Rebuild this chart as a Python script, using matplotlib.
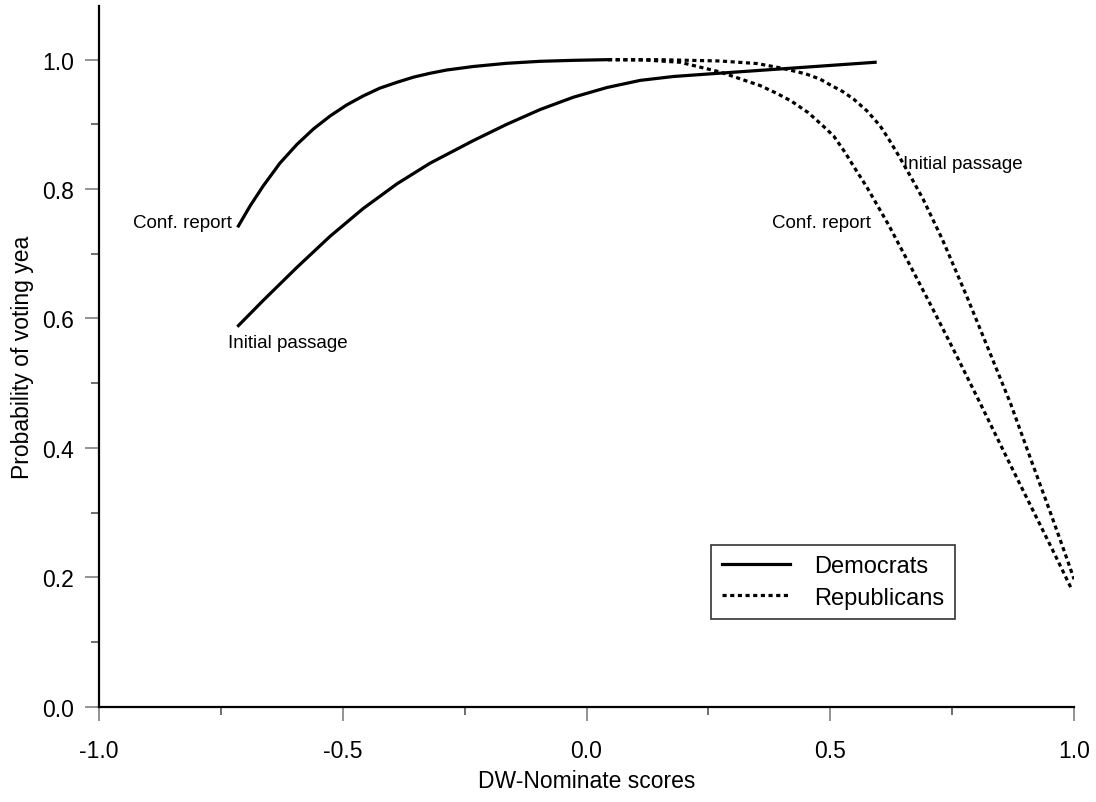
import matplotlib.pyplot as plt
from matplotlib.ticker import MultipleLocator

# Democrats, conference report
dem_conf_x = [-0.714, -0.690, -0.663, -0.629, -0.594, -0.560, -0.526, -0.492, -0.458, -0.424,
              -0.389, -0.355, -0.321, -0.287, -0.232, -0.164, -0.095, -0.027, 0.042]
dem_conf_y = [0.743, 0.774, 0.805, 0.840, 0.869, 0.893, 0.913, 0.930, 0.944, 0.956,
              0.965, 0.973, 0.979, 0.984, 0.9895, 0.9944, 0.9975, 0.999, 1.0]

# Democrats, initial passage
dem_init_x = [-0.714, -0.663, -0.594, -0.526, -0.458, -0.389, -0.321, -0.232, -0.164, -0.095,
              -0.027, 0.042, 0.110, 0.178, 0.233, 0.592]
dem_init_y = [0.589, 0.628, 0.679, 0.727, 0.770, 0.808, 0.840, 0.875, 0.900, 0.923,
              0.942, 0.957, 0.968, 0.974, 0.977, 0.996]

# Republicans, conference report
rep_conf_x = [0.044, 0.12, 0.192, 0.274, 0.356, 0.39, 0.42, 0.455, 0.486, 0.507, 0.53, 0.548,
              0.575, 0.62, 0.665, 0.71, 0.76, 0.81, 0.86, 0.91, 0.96, 0.996]
rep_conf_y = [1.0, 0.9995, 0.996, 0.981, 0.960, 0.948, 0.936, 0.918, 0.897, 0.882, 0.857, 0.835,
              0.803, 0.744, 0.680, 0.615, 0.541, 0.465, 0.388, 0.312, 0.236, 0.180]

# Republicans, initial passage
rep_init_x = [0.044, 0.15, 0.274, 0.35, 0.40, 0.45, 0.479, 0.50, 0.525, 0.548, 0.575, 0.602,
              0.62, 0.64, 0.665, 0.69, 0.73, 0.78, 0.83, 0.87, 0.91, 0.95, 0.98, 1.0]
rep_init_y = [1.0, 1.0, 0.998, 0.994, 0.987, 0.978, 0.970, 0.961, 0.951, 0.939, 0.921, 0.898,
              0.877, 0.852, 0.819, 0.785, 0.722, 0.634, 0.542, 0.468, 0.385, 0.303, 0.240, 0.197]

plt.rcParams['font.family'] = ['Liberation Sans', 'DejaVu Sans']

fig = plt.figure(figsize=(10.96, 8.03), dpi=100)
ax = fig.add_axes([0.0903, 0.1187, 0.8897, 0.873])

dots = (0, (1.3, 1.1))
ax.plot(dem_conf_x, dem_conf_y, color='black', lw=2.3, label='Democrats')
ax.plot(dem_init_x, dem_init_y, color='black', lw=2.3)
ax.plot(rep_conf_x, rep_conf_y, color='black', lw=2.3, ls=dots, label='Republicans')
ax.plot(rep_init_x, rep_init_y, color='black', lw=2.3, ls=dots)

ax.text(-0.727, 0.749, 'Conf. report', fontsize=13.5, ha='right', va='center')
ax.text(-0.735, 0.563, 'Initial passage', fontsize=13.5, ha='left', va='center')
ax.text(0.650, 0.839, 'Initial passage', fontsize=13.5, ha='left', va='center')
ax.text(0.380, 0.749, 'Conf. report', fontsize=13.5, ha='left', va='center')

ax.set_xlim(-1, 1)
ax.set_ylim(0, 1.0835)
ax.xaxis.set_minor_locator(MultipleLocator(0.25))
ax.yaxis.set_minor_locator(MultipleLocator(0.1))
ax.set_xticks([-1.0, -0.5, 0.0, 0.5, 1.0])
ax.set_yticks([0.0, 0.2, 0.4, 0.6, 0.8, 1.0])
ax.xaxis.set_major_formatter(plt.FormatStrFormatter('%.1f'))
ax.yaxis.set_major_formatter(plt.FormatStrFormatter('%.1f'))

for s in ['top', 'right']:
    ax.spines[s].set_visible(False)
for s in ['left', 'bottom']:
    ax.spines[s].set_linewidth(1.6)
    ax.spines[s].set_color('black')

ax.tick_params(which='major', direction='out', length=10, width=1.2, color='#808080',
               labelsize=16.5, pad=8)
ax.tick_params(axis='x', which='major', pad=13)
ax.tick_params(which='minor', direction='out', length=6, width=1.2, color='#555555')

ax.set_xlabel('DW-Nominate scores', fontsize=16.5, labelpad=5)
ax.set_ylabel('Probability of voting yea', fontsize=16.5, labelpad=5.5)

leg = ax.legend(loc='upper left', bbox_to_anchor=(0.6277, 0.2311), borderaxespad=0,
                fontsize=17, frameon=True, fancybox=False, edgecolor='black',
                handlelength=2.9, handletextpad=1.0, borderpad=0.45, labelspacing=0.4)
leg.get_frame().set_linewidth(1.2)

fig.savefig('out.png', dpi=100)
